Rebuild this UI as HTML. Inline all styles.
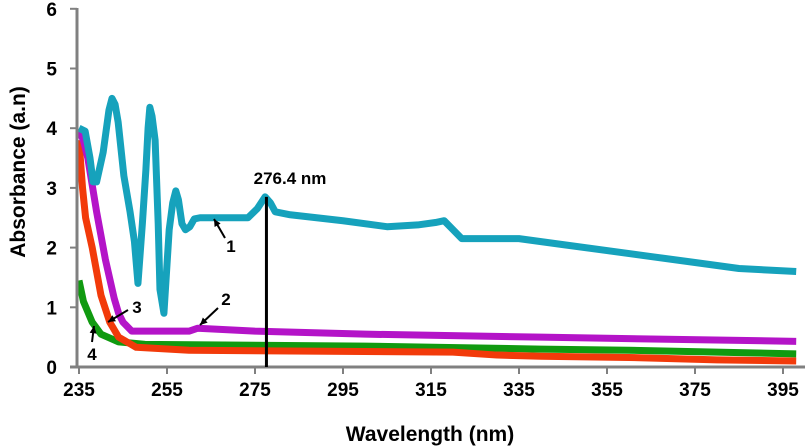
<!DOCTYPE html>
<html><head><meta charset="utf-8"><style>
body{margin:0;background:#fff}
svg{display:block;font-family:"Liberation Sans",Arial,sans-serif;font-weight:bold}
</style></head><body>
<svg id="chart" width="809" height="448">
<g id="grid"></g><g id="series"></g><g id="axes"></g><g id="ann"></g>
</svg>
<script>
const xTicks=[235,255,275,295,315,335,355,375,395];
const yTicks=[0,1,2,3,4,5,6];
const s1x=[235,236.4,237.5,238.2,239,240.5,241.8,242.5,243.2,243.9,245.2,246.6,247.6,248.4,249.4,250.2,250.7,251.1,251.6,252.3,253,253.4,254.3,254.9,255.5,256.3,257,257.6,258.4,259.2,260.2,261.2,262.5,273.4,275.5,277.3,278.5,279.6,283,295,305,312,316,318,320,322,335,345,355,365,375,385,398];
const s1y=[4.0,3.95,3.5,3.1,3.1,3.6,4.3,4.5,4.4,4.1,3.2,2.6,2.1,1.4,2.4,3.3,4.0,4.35,4.2,3.8,2.4,1.3,0.9,1.6,2.3,2.75,2.95,2.8,2.4,2.3,2.35,2.48,2.5,2.5,2.65,2.85,2.75,2.6,2.55,2.45,2.35,2.38,2.42,2.45,2.3,2.15,2.15,2.05,1.95,1.85,1.75,1.65,1.6];
const s2x=[235,236,237,239,241,243,244,245,247,260,262,275,300,340,398];
const s2y=[3.95,3.8,3.5,2.6,1.8,1.15,0.9,0.75,0.6,0.6,0.65,0.6,0.55,0.5,0.43];
const s3x=[235,235.8,236.5,238,240,242,244,248,260,320,330,340,360,380,398];
const s3y=[3.8,3.0,2.5,2.0,1.2,0.75,0.5,0.33,0.28,0.25,0.2,0.18,0.16,0.12,0.1];
const s4x=[235,236,238,240,244,250,300,340,360,398];
const s4y=[1.45,1.1,0.75,0.55,0.42,0.38,0.35,0.3,0.28,0.22];
const peakX=[277.6];const peakY=[2.85];
const NS="http://www.w3.org/2000/svg";
const X=v=>79+(v-235)*4.4, Y=v=>367-v*59.7;
function mk(t,p,a){const e=document.createElementNS(NS,t);for(const k in a)e.setAttribute(k,a[k]);p.appendChild(e);return e;}
const ser=document.getElementById('series'),ax=document.getElementById('axes'),an=document.getElementById('ann');
const list=[[s4x,s4y,'#109a10','series-4'],[s3x,s3y,'#f23a0a','series-3'],[s2x,s2y,'#b414c8','series-2'],[s1x,s1y,'#16a2bc','series-1']];
list.forEach(([xs,ys,c,n])=>{
 const p=mk('polyline',ser,{points:xs.map((x,i)=>X(x)+','+Y(ys[i])).join(' '),fill:'none',stroke:c,'stroke-width':7,'stroke-linejoin':'round'});
 
 
});
let l=mk('line',ax,{x1:77,y1:367,x2:77,y2:8,stroke:'#808080','stroke-width':3});

l=mk('line',ax,{x1:70,y1:367,x2:805,y2:367,stroke:'#808080','stroke-width':3});

yTicks.forEach(v=>{mk('line',ax,{x1:70,x2:77,y1:Y(v),y2:Y(v),stroke:'#808080','stroke-width':2});
 const t=mk('text',ax,{x:57,y:Y(v)+7,'text-anchor':'end','font-size':19});t.textContent=v;
 });
xTicks.forEach(v=>{mk('line',ax,{x1:X(v),x2:X(v),y1:367,y2:374,stroke:'#808080','stroke-width':2});
 const t=mk('text',ax,{x:X(v),y:396,'text-anchor':'middle','font-size':19});t.textContent=v;
 });
let t=mk('text',ax,{x:430,y:441,'text-anchor':'middle','font-size':21});t.textContent='Wavelength (nm)';

t=mk('text',ax,{x:0,y:0,'text-anchor':'middle','font-size':21,transform:'translate(25,172) rotate(-90)'});t.textContent='Absorbance (a.n)';

l=mk('line',an,{x1:X(peakX[0]),y1:367,x2:X(peakX[0]),y2:Y(peakY[0]),stroke:'#000','stroke-width':3});

t=mk('text',an,{x:290,y:184,'text-anchor':'middle','font-size':17});t.textContent='276.4 nm';

const arrows=[['1',225,238,214,219,231,252],['2',218,308,200,325,226,305],['3',128,310,108,322,137,313],['4',92,342,94,326,92,360]];
arrows.forEach(([s,x1,y1,x2,y2,tx,ty])=>{
 const g=mk('g',an,{});
 
 
 mk('line',g,{x1,y1,x2,y2,stroke:'#000','stroke-width':2});
 const a=Math.atan2(y2-y1,x2-x1),L=8;
 const p1=[x2-L*Math.cos(a-0.45),y2-L*Math.sin(a-0.45)],p2=[x2-L*Math.cos(a+0.45),y2-L*Math.sin(a+0.45)];
 mk('polygon',g,{points:`${x2},${y2} ${p1} ${p2}`,fill:'#000'});
 const tt=mk('text',g,{x:tx,y:ty,'text-anchor':'middle','font-size':17});tt.textContent=s;
});
</script>
</body></html>
